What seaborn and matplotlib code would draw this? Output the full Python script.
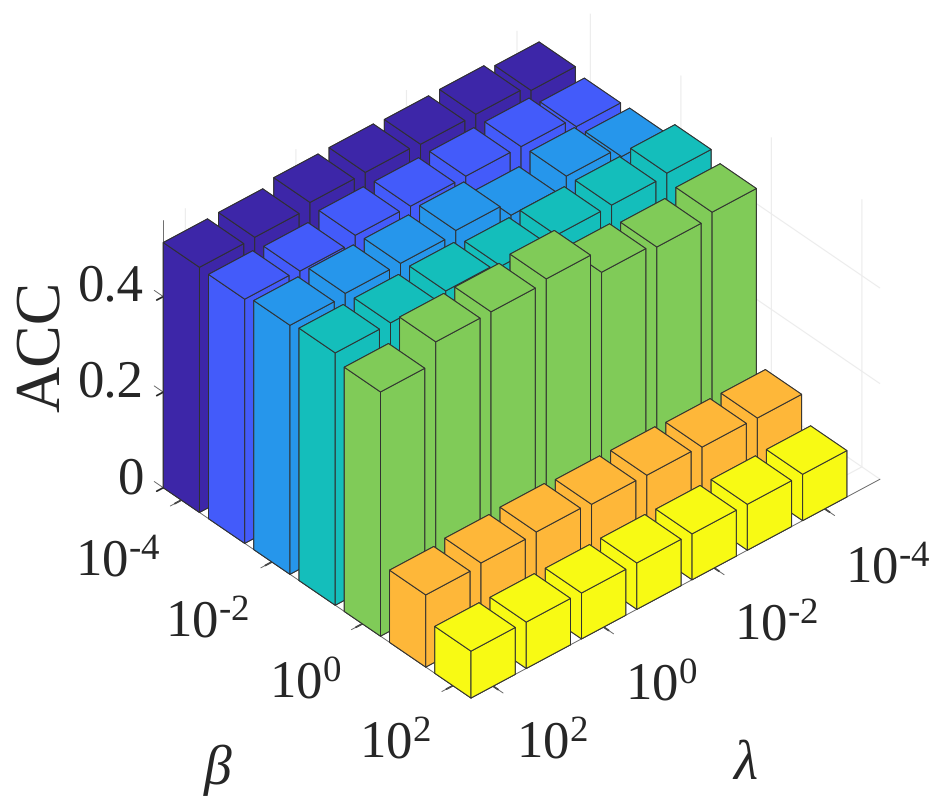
import matplotlib
matplotlib.use('Agg')
import matplotlib.pyplot as plt
import seaborn as sns
from mpl_toolkits.mplot3d import proj3d

# data, outer list is beta (far row first), inner list is lambda (near bar first)
acc_row1 = [0.513, 0.514, 0.525, 0.526, 0.523, 0.524, 0.512]
acc_row2 = [0.511, 0.508, 0.521, 0.520, 0.521, 0.521, 0.501]
acc_row3 = [0.521, 0.526, 0.527, 0.534, 0.504, 0.524, 0.503]
acc_row4 = [0.528, 0.529, 0.534, 0.524, 0.527, 0.528, 0.533]
acc_row5 = [0.511, 0.554, 0.555, 0.562, 0.514, 0.505, 0.516]
acc_row6 = [0.151, 0.156, 0.159, 0.155, 0.154, 0.151, 0.150]
acc_row7 = [0.098, 0.097, 0.096, 0.097, 0.096, 0.096, 0.097]
acc_rows = [acc_row1, acc_row2, acc_row3, acc_row4, acc_row5, acc_row6, acc_row7]

row_colors = ['#3d26a8', '#435bfa', '#2696eb', '#14bebb', '#80cb58', '#feb739', '#f8fa14']
tick_pos = [1, 3, 5, 7]
z_pos = [0, 0.2, 0.4]
z_ticks = ['0.4', '0.2', '0']
beta_ticks = [r'$\mathregular{10^{\text{-}4}}$', r'$\mathregular{10^{\text{-}2}}$',
              r'$\mathregular{10^{0}}$', r'$\mathregular{10^{2}}$']
lambda_ticks = [r'$\mathregular{10^{2}}$', r'$\mathregular{10^{0}}$',
                r'$\mathregular{10^{\text{-}2}}$', r'$\mathregular{10^{\text{-}4}}$']

sns.set_theme(style='white')
plt.rcParams['font.family'] = ['Liberation Serif', 'DejaVu Sans']
plt.rcParams['mathtext.fontset'] = 'custom'
plt.rcParams['mathtext.rm'] = 'Liberation Serif'
plt.rcParams['mathtext.it'] = 'Liberation Serif:italic'
plt.rcParams['text.color'] = '#262626'
plt.rcParams['text.hinting'] = 'no_hinting'

W, H = 952, 798
pal = sns.color_palette(row_colors)

fig = plt.figure(figsize=(W / 100, H / 100), dpi=100)
ax = fig.add_axes([0, 0, 1, 1], projection='3d')
ax.computed_zorder = False
ax.set_proj_type('ortho')
ax.view_init(elev=37.2, azim=-131.5)

# far row first and far bar first, so nearer bars paint over
z = 10
for j in range(7):
    for i in range(6, -1, -1):
        ax.bar3d(i + 0.6, j + 0.6, 0, 0.8, 0.8, acc_rows[j][i], color=pal[j], shade=False,
                 edgecolor='#303030', linewidth=0.7, zorder=z)
        z += 1

ax.set_xlim(0.6, 8)
ax.set_ylim(7.4, 0.6)
ax.set_zlim(0, 0.56)
ax.set_box_aspect((7.4 * 73.8, 6.8 * 68.3, 0.56 * 600))
ax.set_xticks(tick_pos)
ax.set_yticks(tick_pos)
ax.set_zticks(z_pos)
ax.set_xticklabels([])
ax.set_yticklabels([])
ax.set_zticklabels([])
ax.set_xlabel('')
ax.set_ylabel('')
ax.set_zlabel('')

for axis in [ax.xaxis, ax.yaxis, ax.zaxis]:
    axis.set_pane_color((1, 1, 1, 0))
    axis._axinfo['grid'].update(color='#ececec', linewidth=0.8)
    axis.line.set_color('#555555')
    axis.line.set_linewidth(0.6)
ax.grid(True)

# tick stubs, the 3d axis ticks would point into the bars
stub = dict(color='#555555', linewidth=0.6, zorder=1)
for t in tick_pos:
    ax.plot([t, t], [7.4, 7.62], [0, 0], **stub)
    ax.plot([0.6, 0.4], [t, t], [0, 0], **stub)
for t in z_pos:
    ax.plot([0.6, 0.6], [0.6, 0.4], [t, t], **stub)


def to_px(x, y, zz):
    x2, y2, _ = proj3d.proj_transform(x, y, zz, ax.get_proj())
    return ax.transData.transform((x2, y2))


# fit the box onto the floor corners of the picture
fig.canvas.draw()
p_b = to_px(0.6, 7.4, 0)
p_r = to_px(8, 7.4, 0)
side = H * (409 / (p_r[0] - p_b[0]))
ax.set_position([0, 0, side / W, side / H])
fig.canvas.draw()
p_b = to_px(0.6, 7.4, 0)
ax.set_position([(471 - p_b[0]) / W, (H - 698 - p_b[1]) / H, side / W, side / H])


def label(px, py, s, **kw):
    fig.text(px / W, 1 - py / H, s, **kw)


for s, py in zip(z_ticks, [301, 397, 493]):
    label(144, py, s, fontsize=38, ha='right', va='baseline')
for s, px, py in zip(beta_ticks, [75, 165, 269, 359], [575, 637, 698, 758]):
    label(px, py, s, fontsize=38, ha='left', va='baseline')
for s, px, py in zip(lambda_ticks, [516, 625, 734, 845], [758, 700, 640, 582]):
    label(px, py, s, fontsize=38, ha='left', va='baseline')
label(44, 346, 'ACC', fontsize=46, rotation=90, ha='center', va='center')
label(218, 770, '\u03b2', fontsize=40, style='italic', ha='center', va='center')
label(745, 766, '\u03bb', fontsize=40, style='italic', ha='center', va='center')

fig.savefig('out.png', dpi=100)
